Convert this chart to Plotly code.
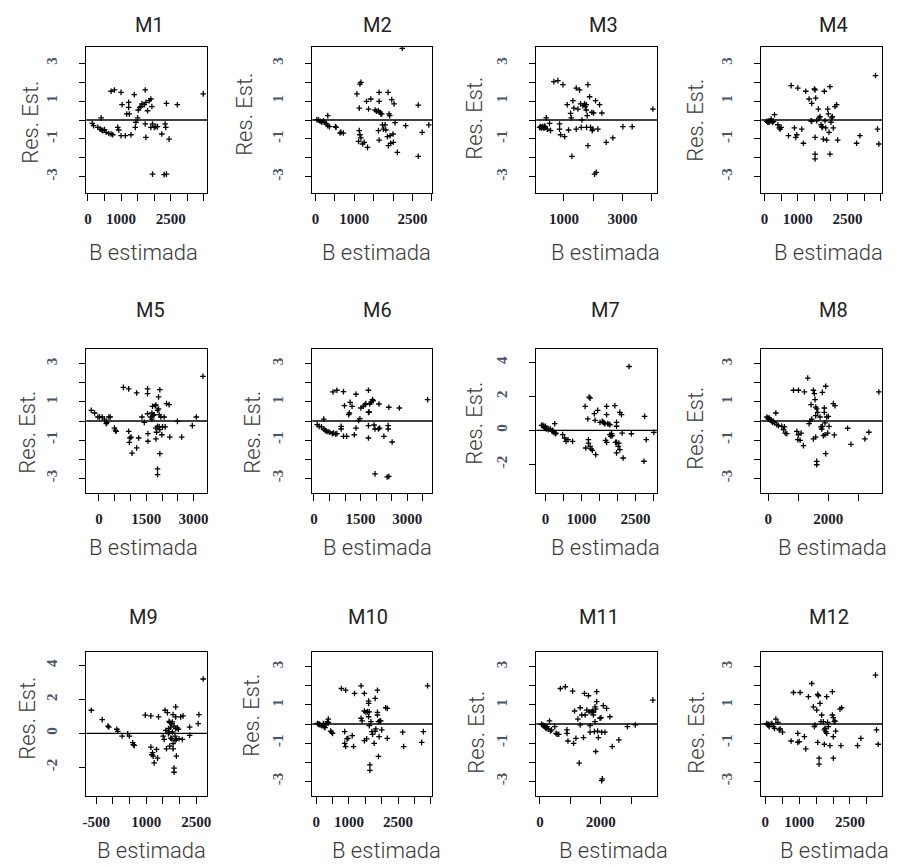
import plotly.graph_objects as go

W, H = 904, 865

# ---------------- data ----------------
titles = ["M1", "M2", "M3", "M4", "M5", "M6", "M7", "M8", "M9", "M10", "M11", "M12"]

m1_x = [130,170,300,370,400,420,450,500,550,630,700,750,700,800,900,930,1000,1030,1000,1130,1170,1230,1230,1250,1300,1400,1430,1450,1500,1520,1570,1600,1630,1700,1730,1750,1730,1750,1800,1850,1900,1930,1950,1900,2000,2050,2100,2230,2330,2350,2370,2450,2700,3480,1950,2300,2370]
m1_y = [-0.18,-0.30,-0.39,-0.48,0.11,-0.53,-0.56,-0.51,-0.65,-0.71,-0.74,-0.78,1.52,1.59,-0.39,-0.53,1.46,0.81,-0.83,-0.83,0.32,0.93,0.67,0.32,-0.78,1.34,-0.39,-0.12,0.11,0.53,0.67,0.71,0.85,0.81,1.59,0.93,-0.21,-0.92,0.49,1.02,1.11,0.71,-0.21,-0.39,-0.39,-0.35,-0.35,-0.74,-0.21,-0.39,0.88,-1.01,0.81,1.38,-2.86,-2.89,-2.86]

m2_x = [34,77,120,162,205,231,274,316,316,359,513,530,632,718,658,1068,1128,1145,1171,1111,1128,1145,1171,1214,1256,1316,1342,1368,1427,1538,1573,1624,1641,1641,1624,1641,1658,1684,1709,1726,1752,1795,1812,1855,1872,1880,1897,1915,1923,1940,1966,2000,2009,2026,2051,2111,2325,2650,2650,2752,2923,2239]
m2_y = [0.02,0.00,-0.07,-0.12,-0.04,-0.12,-0.21,0.23,-0.30,-0.35,-0.35,-0.39,-0.69,-0.69,-0.65,1.38,0.63,1.90,1.99,-1.13,-0.56,-0.78,-0.95,-1.27,-1.18,0.99,-1.45,0.58,1.11,0.53,0.46,0.49,0.99,1.46,-0.56,-1.06,0.41,0.32,0.32,-0.26,-0.48,-0.26,-0.53,-0.88,1.46,-1.36,0.32,0.23,-0.83,-1.23,1.08,-0.74,-1.18,0.85,-0.14,-1.71,-0.30,0.79,-1.92,-0.65,-0.26,3.79]

m3_x = [171,205,227,250,284,318,341,364,398,432,511,546,659,795,852,852,886,966,1023,1114,1159,1227,1250,1273,1307,1341,1420,1420,1477,1534,1568,1591,1614,1648,1704,1727,1761,1761,1772,1795,1818,1818,1875,1909,1954,1966,1988,2011,2045,2102,2079,2159,2216,2295,2443,2670,3011,3329,4033]
m3_y = [-0.39,-0.35,-0.42,-0.39,-0.35,-0.44,-0.32,-0.39,0.11,-0.48,-0.18,-0.56,2.03,2.08,-0.21,-0.48,-0.78,1.87,-0.88,0.81,-0.53,0.35,0.11,-1.92,1.02,0.63,-0.48,1.69,0.58,1.59,0.85,-0.39,0.00,0.76,0.85,0.71,0.81,0.53,-0.39,0.23,-1.36,1.87,1.23,-0.39,0.41,-0.56,-0.48,0.37,-2.86,-2.77,1.02,-0.48,0.81,0.37,-1.18,-0.95,-0.35,-0.35,0.58]

m4_x = [70,100,120,140,170,200,220,240,270,300,400,440,470,500,720,800,900,940,970,1000,1120,1170,1240,1340,1420,1500,1520,1520,1520,1520,1540,1570,1620,1640,1670,1700,1720,1740,1770,1800,1820,1840,1870,1900,1920,1940,1970,1970,2000,2020,2040,2070,2120,2170,2200,2770,2870,3340,3400,3440,1420,1400]
m4_y = [-0.07,-0.12,-0.07,-0.12,-0.04,0.05,-0.07,-0.12,-0.07,0.28,-0.25,-0.42,-0.48,-0.39,-0.83,1.82,-0.42,-0.92,-0.78,1.69,-0.48,-1.23,1.52,1.11,0.88,1.64,1.59,-0.92,-1.80,-2.06,1.16,-0.04,0.58,0.11,0.18,-0.25,-0.35,-0.39,-1.01,1.52,-0.04,-0.42,-1.06,0.58,0.32,-0.65,1.76,-1.80,-0.12,0.11,0.18,-0.42,0.71,0.81,-1.06,-1.23,-0.83,2.35,-0.48,-1.27,-0.07,-0.04]

m5_x = [-241,-136,-31,21,105,178,231,252,315,357,493,525,546,777,944,944,965,986,1018,1049,1196,1196,1259,1364,1438,1542,1542,1542,1553,1553,1647,1679,1679,1700,1721,1752,1784,1805,1805,1805,1826,1857,1857,1889,1889,1910,1910,1931,1931,1931,1962,1994,2015,2067,2099,2141,2225,2246,2487,2623,2959,3085,3295,1857,1857]
m5_y = [0.56,0.42,0.21,0.21,0.21,0.10,-0.14,-0.07,0.21,0.21,-0.37,-0.49,-0.54,1.76,1.68,-0.54,-1.12,-0.89,-0.84,-1.68,1.47,-1.41,-0.89,0.21,-0.07,1.68,1.43,0.38,-0.66,-1.06,0.21,0.42,0.10,0.77,0.30,0.33,0.80,0.84,-0.37,-0.94,-0.59,-0.28,0.56,1.26,0.63,0.33,-0.31,1.64,-0.45,-1.71,0.21,-0.72,-0.31,0.21,-0.31,0.91,0.86,-0.84,-0.02,-0.84,-0.24,0.21,2.34,-2.51,-2.81]

m6_x = [106,169,243,317,317,359,401,454,507,591,634,697,739,612,739,876,876,950,982,950,1056,1119,1140,1162,1225,1299,1352,1352,1436,1478,1510,1584,1647,1668,1753,1753,1774,1795,1837,1880,1901,1753,1753,1932,1964,2070,2112,2091,2249,2386,2386,2408,2513,2746,3654,1964,2355,2408]
m6_y = [-0.19,-0.28,-0.31,0.10,-0.42,-0.49,-0.54,-0.56,-0.59,-0.66,-0.63,-0.68,-0.66,1.52,1.61,-0.28,-0.42,1.54,0.80,-0.80,-0.80,0.33,0.42,0.98,0.77,-0.72,1.40,-0.37,0.03,0.12,0.68,0.77,0.86,0.91,1.61,0.45,0.47,0.89,0.99,1.12,1.06,-0.24,-0.89,-0.21,-0.42,-0.42,-0.37,0.89,-0.80,-0.24,-0.42,0.72,-1.10,0.68,1.12,-2.77,-2.93,-2.90]

m7_x = [-110,-73,-46,-18,0,18,73,92,138,183,202,229,257,275,293,477,532,569,624,752,1100,1119,1174,1192,1192,1210,1238,1238,1265,1302,1357,1376,1394,1449,1513,1577,1605,1632,1651,1669,1696,1696,1696,1724,1761,1788,1788,1816,1834,1852,1926,1944,1972,1972,1972,2017,2036,2063,2063,2109,2127,2155,2384,2733,2751,2797,3008,2320,1972]
m7_y = [0.29,0.29,0.24,0.14,0.24,0.08,0.04,0.08,0.08,-0.06,0.00,-0.12,0.39,-0.20,-0.16,-0.25,-0.45,-0.65,-0.55,-0.65,1.41,-1.04,0.67,-0.55,-0.75,1.96,1.90,-0.94,-1.10,-1.18,0.98,0.59,-1.43,1.18,0.47,0.53,0.47,0.43,0.39,-0.59,0.92,-0.71,1.41,0.39,0.37,0.33,-0.25,-0.35,-0.20,-0.31,1.45,-0.71,0.47,0.24,-1.33,-0.94,-0.75,1.06,-1.14,0.92,-0.16,-1.63,-0.20,-1.82,0.82,-0.55,-0.12,3.76,-0.71]

m8_x = [-44,-11,11,33,66,99,122,144,177,210,254,287,343,453,508,541,564,619,840,950,983,1006,1006,1061,1094,1171,1204,1315,1359,1392,1425,1448,1503,1503,1536,1558,1580,1580,1580,1613,1613,1613,1646,1724,1757,1779,1801,1801,1834,1867,1867,1890,1890,1912,1912,1945,1978,2000,2022,2166,2221,2199,2641,2752,3216,3348,3680]
m8_y = [0.21,0.16,0.10,0.16,0.07,0.03,-0.02,-0.07,-0.02,-0.10,0.42,-0.19,-0.24,-0.28,-0.45,-0.31,-0.63,-0.66,1.61,-0.54,-0.98,1.61,-0.72,-1.01,-0.63,-1.29,1.52,2.25,-0.14,-0.02,0.86,0.10,1.61,-0.94,1.43,1.12,0.28,0.73,-0.84,0.63,-2.11,-2.29,0.45,0.21,-0.31,-0.42,-0.28,1.50,-0.77,0.68,0.45,-0.10,-0.72,-1.71,1.82,0.21,-0.63,0.24,-0.28,0.91,0.80,-0.73,-0.38,-1.22,-0.94,-0.59,1.52]

m9_x = [-649,-321,-152,-123,116,145,275,443,493,592,612,642,970,1138,1138,1168,1188,1208,1238,1307,1337,1367,1506,1536,1565,1585,1605,1635,1665,1665,1685,1685,1704,1704,1734,1734,1764,1764,1784,1784,1804,1804,1804,1834,1834,1834,1863,1863,1883,1883,1883,1903,1903,1933,1963,1983,2032,2082,2102,2300,2300,2558,2578,2707]
m9_y = [1.36,0.81,0.43,0.37,0.24,0.12,-0.16,-0.02,-0.16,-0.55,-0.67,-0.71,1.07,1.03,-0.81,-1.26,-1.14,-1.34,-1.74,-0.95,-1.46,0.97,-0.16,-0.36,1.36,0.18,-0.91,1.22,0.28,-0.02,0.08,0.71,0.63,-0.75,-0.28,0.37,0.57,-0.32,0.67,0.08,1.10,-0.61,-0.91,-2.05,-2.29,0.43,-0.41,-0.16,0.97,1.56,0.28,-1.34,-0.36,0.32,0.24,-0.32,0.97,-0.36,1.03,-0.12,0.37,0.57,1.10,3.20]

m10_x = [40,70,100,120,170,220,240,270,300,340,370,370,440,470,500,770,870,900,870,900,940,970,1100,1140,1170,1370,1370,1400,1470,1470,1470,1520,1540,1570,1600,1600,1600,1620,1620,1670,1700,1720,1770,1800,1800,1820,1870,1870,1870,1900,1900,1920,1940,1970,2000,2120,2170,2170,1640,1640,2640,2670,3220,3270,3400]
m10_y = [0.03,-0.02,0.00,-0.05,-0.09,0.03,-0.14,-0.19,-0.05,0.12,0.26,0.07,-0.37,-0.43,-0.49,1.86,-0.40,1.77,-1.01,-1.18,-0.78,-0.75,-0.61,-1.18,1.60,2.00,0.30,0.16,1.60,0.68,-0.87,0.61,-0.78,0.64,1.20,1.08,0.38,0.64,-0.09,0.12,-0.40,-0.54,-1.01,1.34,-0.37,-0.26,1.77,0.47,0.61,-1.70,0.12,-0.66,0.16,0.16,-0.31,0.85,0.82,-0.75,-2.14,-2.43,-0.43,-1.18,-0.96,-0.40,2.00]

m11_x = [54,98,130,163,185,207,239,272,315,348,380,489,533,565,620,674,837,891,891,924,1076,1109,1141,1185,1250,1294,1326,1326,1380,1435,1467,1489,1544,1598,1620,1652,1652,1685,1728,1761,1761,1794,1815,1815,1837,1837,1870,1870,1902,1924,1978,2011,2033,2033,2054,2087,2141,2196,2304,2381,2598,2881,3141,3718]
m11_y = [-0.02,-0.05,-0.09,-0.14,-0.19,-0.23,-0.14,-0.26,0.16,-0.37,-0.31,-0.14,-0.49,-0.54,-0.54,1.86,1.95,-0.31,-0.49,-0.89,1.72,-1.01,0.68,-0.75,0.26,-2.05,0.85,-0.05,0.47,-0.71,1.60,0.47,0.73,1.48,0.64,-0.43,-0.09,0.64,0.68,0.61,0.47,-0.40,0.12,0.90,0.78,-1.44,1.69,1.17,-0.37,-0.71,0.30,0.33,-0.43,-2.97,-2.87,0.96,-0.43,0.82,0.38,-1.18,-0.83,-0.14,-0.05,1.25]

m12_x = [49,78,98,118,176,196,245,274,314,372,412,441,510,764,833,960,960,1000,1029,1156,1196,1274,1372,1421,1450,1470,1519,1548,1548,1568,1588,1588,1617,1646,1666,1715,1744,1744,1764,1784,1813,1813,1862,1911,1980,1980,2009,2009,2009,2038,2058,2078,2205,2254,2234,2724,2822,3254,3283,3332,1842]
m12_y = [0.03,-0.05,-0.02,-0.14,0.00,0.03,-0.14,-0.23,0.26,0.09,-0.31,-0.26,-0.43,-0.89,1.65,-0.49,-0.96,-0.92,1.65,-0.66,-1.30,1.43,2.12,0.90,-0.14,-0.05,0.73,1.55,-0.96,1.48,-1.79,-2.10,1.08,0.12,0.47,0.12,-1.06,-0.31,-0.23,-0.40,-0.49,1.43,-0.14,-1.13,1.69,0.47,-0.66,0.33,-1.79,0.12,0.16,-0.37,0.78,0.85,-1.13,-1.13,-0.75,2.56,-0.31,-1.06,0.09]

xs = [m1_x, m2_x, m3_x, m4_x, m5_x, m6_x, m7_x, m8_x, m9_x, m10_x, m11_x, m12_x]
ys = [m1_y, m2_y, m3_y, m4_y, m5_y, m6_y, m7_y, m8_y, m9_y, m10_y, m11_y, m12_y]

# x-axis ticks (values) and which of them carry a label
x_tickvals = [
    [0, 500, 1000, 1500, 2000, 2500, 3000, 3500],
    [0, 500, 1000, 1500, 2000, 2500, 3000],
    [1000, 2000, 3000, 4000],
    [0, 500, 1000, 1500, 2000, 2500, 3000, 3500],
    [0, 500, 1000, 1500, 2000, 2500, 3000],
    [0, 500, 1000, 1500, 2000, 2500, 3000, 3500],
    [0, 500, 1000, 1500, 2000, 2500, 3000],
    [0, 1000, 2000, 3000],
    [-500, 0, 500, 1000, 1500, 2000, 2500],
    [0, 500, 1000, 1500, 2000, 2500, 3000, 3500],
    [0, 1000, 2000, 3000],
    [0, 500, 1000, 1500, 2000, 2500, 3000],
]
x_labelled = [
    [0, 1000, 2500], [0, 1000, 2500], [1000, 3000], [0, 1000, 2500],
    [0, 1500, 3000], [0, 1500, 3000], [0, 1000, 2500], [0, 2000],
    [-500, 1000, 2500], [0, 1000, 2500], [0, 2000], [0, 1000, 2500],
]
x_ranges = [
    [-50, 3600], [-85, 3010], [57, 4180], [-100, 3540],
    [-400, 3430], [-53, 3800], [-257, 3100], [-232, 3790],
    [-800, 2827], [-120, 3540], [-120, 3860], [-118, 3450],
]
y_tickvals_a = [-3, -2, -1, 0, 1, 2, 3]
y_labelled_a = [-3, -1, 1, 3]
y_tickvals_b = [-2, 0, 2, 4]
y_labelled_b = [-2, 0, 2, 4]
wide_panels = [7, 9]  # panels using the -2..4 scale

# ---------------- layout geometry (pixels) ----------------
col_px = [(83, 205), (311, 432), (537, 659), (764, 886)]
row_px = [(47, 193), (349, 493), (652, 796)]
title_pos = [(147, 25), (377, 25), (605, 25), (837, 25),
             (148, 310), (377, 310), (607, 310), (837, 310),
             (141, 617), (367, 617), (600, 617), (832, 617)]
xlab_pos = [(141, 252), (376, 252), (607, 252), (832, 252),
            (141, 547), (377, 547), (607, 547), (836, 547),
            (149, 850), (386, 850), (615, 850), (838, 850)]
ylab_pos = [(26, 122), (242, 114), (474, 118), (698, 120),
            (23, 432), (250, 432), (475, 423), (697, 428),
            (23, 718), (249, 715), (476, 732), (698, 732)]

fig = go.Figure()
shapes = []
annotations = []
label_font = dict(family="Roboto", size=22, color="#3a3a3a", weight=300)
layout = {}

for i in range(12):
    n = i + 1
    r, c = divmod(i, 4)
    x0, x1 = col_px[c]
    y0, y1 = row_px[r]
    xa = "xaxis" if n == 1 else f"xaxis{n}"
    ya = "yaxis" if n == 1 else f"yaxis{n}"
    xref = "x" if n == 1 else f"x{n}"
    yref = "y" if n == 1 else f"y{n}"

    fig.add_trace(go.Scatter(
        x=xs[i], y=ys[i], mode="markers", xaxis=xref, yaxis=yref,
        marker=dict(symbol="cross-thin", size=4, color="black",
                    line=dict(width=1.3, color="black")),
        showlegend=False, hoverinfo="skip"))

    if n in wide_panels:
        yv, yl, yr = y_tickvals_b, y_labelled_b, [-3.69, 4.79]
    elif r == 0:
        yv, yl, yr = y_tickvals_a, y_labelled_a, [-3.86, 3.86]
    else:
        yv, yl, yr = y_tickvals_a, y_labelled_a, [-3.77, 3.77]

    layout[xa] = dict(
        domain=[x0 / W, x1 / W], anchor=yref, range=x_ranges[i],
        tickmode="array", tickvals=x_tickvals[i],
        ticktext=[str(v) if v in x_labelled[i] else "" for v in x_tickvals[i]],
        ticks="outside", ticklen=7, tickwidth=1, tickcolor="black",
        showline=True, linecolor="black", linewidth=1.2, mirror=True,
        showgrid=False, zeroline=False, ticklabelstandoff=5,
        tickfont=dict(family="Liberation Serif", size=15, color="#1c1c2a", weight="bold"),
        fixedrange=True)
    layout[ya] = dict(
        domain=[1 - y1 / H, 1 - y0 / H], anchor=xref, range=yr,
        tickmode="array", tickvals=yv,
        ticktext=[str(v) if v in yl else "" for v in yv],
        ticks="outside", ticklen=6, tickwidth=1, tickcolor="black",
        showline=True, linecolor="black", linewidth=1.2, mirror=True,
        showgrid=False, zeroline=False, tickangle=-90, ticklabelstandoff=16,
        tickfont=dict(family="Liberation Serif", size=15, color="#4a5468", weight="bold"),
        fixedrange=True)

    shapes.append(dict(type="line", xref=f"{xref} domain", yref=yref,
                       x0=0, x1=1, y0=0, y1=0,
                       line=dict(color="black", width=1.4)))

    tx, ty = title_pos[i]
    annotations.append(dict(text=titles[i], x=tx / W, y=1 - ty / H, xref="paper", yref="paper",
                            showarrow=False, xanchor="center", yanchor="middle",
                            font=dict(family="Roboto", size=20, color="#222222")))
    lx, ly = xlab_pos[i]
    annotations.append(dict(text="B estimada", x=lx / W, y=1 - ly / H, xref="paper", yref="paper",
                            showarrow=False, xanchor="center", yanchor="middle", font=label_font))
    qx, qy = ylab_pos[i]
    annotations.append(dict(text="Res. Est.", x=qx / W, y=1 - qy / H, xref="paper", yref="paper",
                            showarrow=False, xanchor="center", yanchor="middle", textangle=-90,
                            font=label_font))

fig.update_layout(
    width=W, height=H, autosize=False,
    margin=dict(l=0, r=0, t=0, b=0),
    paper_bgcolor="white", plot_bgcolor="white",
    shapes=shapes, annotations=annotations, showlegend=False,
    **layout)

fig.write_html("out.html", config={"displayModeBar": False},
               post_script="document.body.style.margin='0';document.body.style.padding='0';")
